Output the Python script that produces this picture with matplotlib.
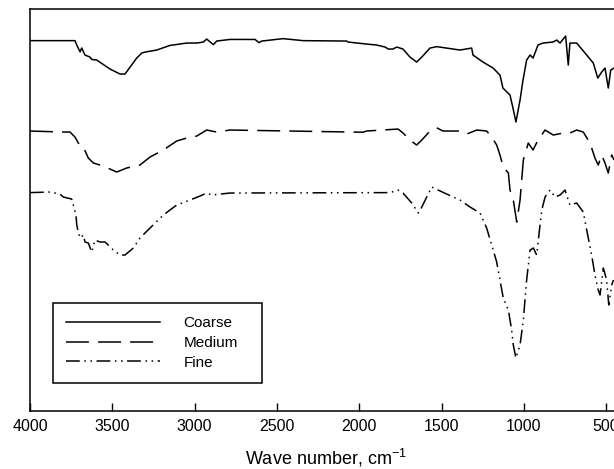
import numpy as np
import matplotlib
matplotlib.use("Agg")
import matplotlib.pyplot as plt

plt.rcParams['font.family'] = ['Liberation Sans', 'DejaVu Sans']
plt.rcParams['mathtext.fontset'] = 'custom'
plt.rcParams['mathtext.rm'] = 'Liberation Sans'

# wavenumber (cm-1) / transmittance (a.u.)
coarse_wn = [4000, 3727, 3716, 3696, 3686, 3666, 3636, 3625, 3595, 3514, 3453, 3423, 3392, 3352,
             3321, 3301, 3230, 3150, 3048, 2987, 2947, 2927, 2886, 2866, 2785, 2633, 2609, 2592,
             2463, 2341, 2076, 2068, 1955, 1894, 1843, 1823, 1795, 1772, 1734, 1692, 1651, 1620,
             1570, 1529, 1388, 1317, 1309, 1248, 1187, 1145, 1127, 1084, 1066, 1048, 1023, 1005,
             983, 962, 944, 914, 884, 823, 800, 780, 746, 730, 720, 679, 618, 578, 551, 527, 507,
             497, 487, 472, 452]
coarse_t = [92.6, 92.6, 91.5, 89.8, 90.75, 89.0, 88.5, 87.9, 87.75, 85.5, 84.25, 84.25, 86.0, 88.25,
            89.5, 89.75, 90.25, 91.4, 92.0, 92.0, 92.25, 93.0, 91.6, 92.5, 92.9, 92.9, 92.1, 92.5,
            93.1, 92.6, 92.5, 92.25, 91.75, 91.5, 91.0, 90.5, 90.5, 91.0, 90.5, 88.5, 87.25, 88.5,
            90.75, 91.1, 90.25, 90.75, 89.0, 87.25, 85.75, 84.0, 80.75, 79.0, 75.75, 72.25, 77.75, 82.75,
            87.75, 89.0, 88.25, 91.5, 92.0, 92.25, 92.75, 92.0, 93.75, 86.5, 92.0, 92.0, 89.0, 87.0, 83.25,
            84.75, 85.75, 83.25, 80.75, 85.25, 85.75]

medium_wn = [4000, 3798, 3757, 3727, 3696, 3676, 3646, 3615, 3555, 3473, 3413, 3332, 3271, 3190,
             3109, 3048, 2987, 2927, 2866, 2785, 1977, 1955, 1764, 1734, 1692, 1651, 1620, 1570,
             1529, 1491, 1388, 1347, 1286, 1226, 1195, 1165, 1145, 1125, 1094, 1084, 1064, 1043,
             1023, 1013, 1003, 973, 944, 914, 871, 821, 760, 720, 679, 639, 598, 568, 548, 527,
             507, 487, 466, 452]
medium_t = [70.0, 69.75, 69.75, 68.5, 66.25, 66.0, 63.25, 62.0, 61.25, 59.75, 60.75, 61.5, 63.5, 65.25,
            67.5, 68.25, 68.75, 70.25, 69.75, 70.25, 69.7, 70.0, 70.5, 69.5, 67.75, 66.5, 67.75, 70.0,
            70.8, 70.0, 70.0, 69.25, 70.25, 70.0, 68.5, 66.5, 64.0, 61.0, 59.5, 55.25, 52.75, 47.25,
            52.75, 57.75, 62.75, 67.0, 65.25, 67.75, 70.25, 69.0, 69.5, 69.5, 70.25, 69.75, 67.0, 63.25,
            61.5, 64.0, 62.0, 59.5, 64.0, 62.75]

fine_wn = [4000, 3879, 3818, 3798, 3747, 3737, 3721, 3716, 3707, 3696, 3676, 3666, 3646, 3625,
           3605, 3575, 3544, 3494, 3453, 3423, 3372, 3332, 3271, 3190, 3109, 3028, 2967, 2927,
           2896, 2785, 1813, 1764, 1734, 1681, 1641, 1620, 1560, 1469, 1388, 1327, 1266, 1226,
           1195, 1165, 1145, 1125, 1094, 1074, 1064, 1048, 1023, 1003, 983, 962, 942, 922, 912,
           891, 871, 841, 811, 780, 750, 720, 679, 639, 618, 588, 568, 548, 537, 517, 497, 484,
           466, 456]
fine_t = [54.6, 54.75, 54.25, 53.5, 53.0, 51.5, 49.0, 46.5, 44.75, 43.25, 44.0, 42.25, 42.0, 39.75,
          42.75, 42.25, 42.25, 40.25, 39.0, 39.0, 40.75, 43.25, 45.75, 49.0, 51.5, 52.75, 53.75, 54.5,
          54.0, 54.5, 54.6, 55.25, 54.5, 52.0, 49.5, 51.0, 56.0, 54.25, 52.75, 51.0, 49.5, 45.75,
          41.5, 37.25, 32.75, 28.25, 25.25, 20.25, 16.5, 13.25, 16.5, 22.75, 32.75, 40.25, 40.75, 39.0,
          42.75, 50.25, 53.5, 55.25, 53.5, 54.0, 55.25, 51.5, 52.0, 49.75, 45.25, 39.0, 34.0, 30.25,
          29.0, 35.75, 32.75, 26.5, 31.5, 32.75]

xticks = [4000, 3500, 3000, 2500, 2000, 1500, 1000, 500]

fig = plt.figure(figsize=(6.14, 4.69), dpi=100)
ax = fig.add_axes([0.0489, 0.1237, 0.9651, 0.857])

ax.plot(coarse_wn, coarse_t, color='black', lw=1.1, ls='-', label='Coarse')
ax.plot(medium_wn, medium_t, color='black', lw=1.1, ls=(0, (15, 6)), label='Medium')
ax.plot(fine_wn, fine_t, color='black', lw=1.1, ls=(0, (9, 3, 1, 3, 1, 3)), label='Fine')

ax.set_xlim(4000, 400)
ax.set_ylim(0, 100.5)
ax.set_xticks(xticks)
ax.set_xticklabels([str(t) for t in xticks], fontsize=11.5)
ax.set_yticks([])
ax.tick_params(axis='x', direction='in', length=6, width=1, pad=6)
for s in ax.spines.values():
    s.set_linewidth(1.1)
ax.set_xlabel('Wave number, cm$^{-1}$', fontsize=13, labelpad=9)

leg = ax.legend(loc='lower left', bbox_to_anchor=(0.0383, 0.0704, 0.3535, 0.2), mode='expand',
                borderaxespad=0, fontsize=11, handlelength=6.2, handletextpad=1.5,
                labelspacing=0.38, borderpad=0.85, fancybox=False, framealpha=1,
                edgecolor='black')
leg.get_frame().set_linewidth(1.1)

fig.savefig('out.png', dpi=100)
